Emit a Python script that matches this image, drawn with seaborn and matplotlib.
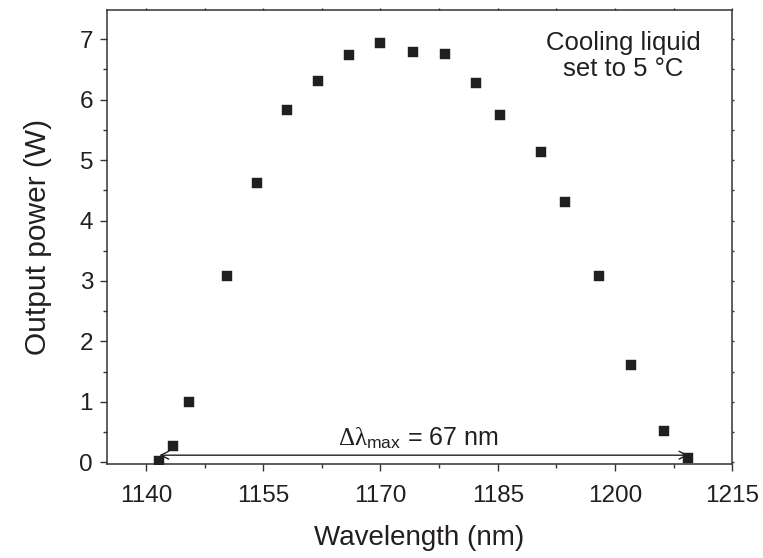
import matplotlib
matplotlib.use("Agg")
import matplotlib.pyplot as plt
import seaborn as sns
import pandas as pd
from matplotlib.ticker import MultipleLocator

# Data
wavelength_nm = [1141.6, 1143.5, 1145.5, 1150.3, 1154.2, 1158.0, 1162.0, 1166.0,
                 1170.0, 1174.1, 1178.2, 1182.2, 1185.3, 1190.5, 1193.6, 1197.9,
                 1202.0, 1206.3, 1209.4]
output_power_w = [0.03, 0.28, 1.00, 3.09, 4.62, 5.83, 6.31, 6.74,
                  6.93, 6.78, 6.76, 6.27, 5.75, 5.14, 4.31, 3.09,
                  1.61, 0.52, 0.08]
x_ticks = [1140, 1155, 1170, 1185, 1200, 1215]
y_ticks = [0, 1, 2, 3, 4, 5, 6, 7]
arrow_span = [1141.7, 1209.4]
arrow_level = 0.12

df = pd.DataFrame({"Wavelength (nm)": wavelength_nm, "Output power (W)": output_power_w})

sns.set_theme(style="ticks")
plt.rcParams["font.family"] = ["Liberation Sans", "DejaVu Sans"]
plt.rcParams["mathtext.fontset"] = "custom"
plt.rcParams["mathtext.rm"] = "Liberation Serif"
plt.rcParams["mathtext.it"] = "Liberation Serif:italic"
plt.rcParams["mathtext.sf"] = "Liberation Sans"

ink = "#231f20"
spine_c = "#333333"

fig = plt.figure(figsize=(7.63, 5.58), dpi=100)
ax = fig.add_axes([0.1402, 0.168, 0.8194, 0.814])

sns.scatterplot(data=df, x="Wavelength (nm)", y="Output power (W)", ax=ax,
                marker="s", s=46, color=ink, edgecolor=ink, linewidth=0.3, zorder=3)

ax.set_xlim(1135, 1215)
ax.set_ylim(-0.03, 7.48)
ax.set_xticks(x_ticks)
ax.set_yticks(y_ticks)
ax.xaxis.set_minor_locator(MultipleLocator(7.5))
ax.yaxis.set_minor_locator(MultipleLocator(0.5))

for sp in ax.spines.values():
    sp.set_color(spine_c)
    sp.set_linewidth(1.1)

ax.tick_params(axis="both", which="major", direction="out", length=5, width=1.0,
               color=spine_c, labelsize=17.5, labelcolor=ink)
ax.tick_params(axis="x", which="major", pad=10)
ax.tick_params(axis="y", which="major", pad=5)
ax.tick_params(axis="both", which="minor", direction="out", length=3, width=1.0,
               color=spine_c)
ax.tick_params(axis="both", which="both", top=True, right=True)
for t in ax.xaxis.get_ticklines(minor=False)[1::2] + ax.xaxis.get_ticklines(minor=True)[1::2]:
    t.set_markersize(1.5)
for t in ax.yaxis.get_ticklines(minor=False)[1::2] + ax.yaxis.get_ticklines(minor=True)[1::2]:
    t.set_markersize(1.5)

ax.set_xlabel("Wavelength (nm)", fontsize=20, color=ink, labelpad=13)
ax.set_ylabel("Output power (W)", fontsize=21.5, color=ink, labelpad=20)

ax.annotate("", xy=(arrow_span[0], arrow_level), xytext=(arrow_span[1], arrow_level),
            arrowprops=dict(arrowstyle="<->", color=ink, lw=1.0,
                            shrinkA=0, shrinkB=0, mutation_scale=14))
ax.text(1174.8, 0.29, r"$\mathrm{\Delta\lambda}_{\mathsf{max}}$ = 67 nm",
        fontsize=18, color=ink, ha="center", va="baseline")

ax.text(1201.1, 6.72, "Cooling liquid\nset to 5 °C", fontsize=18.5, color=ink,
        ha="center", va="center", linespacing=1.1)

fig.savefig("out.png", dpi=100)
